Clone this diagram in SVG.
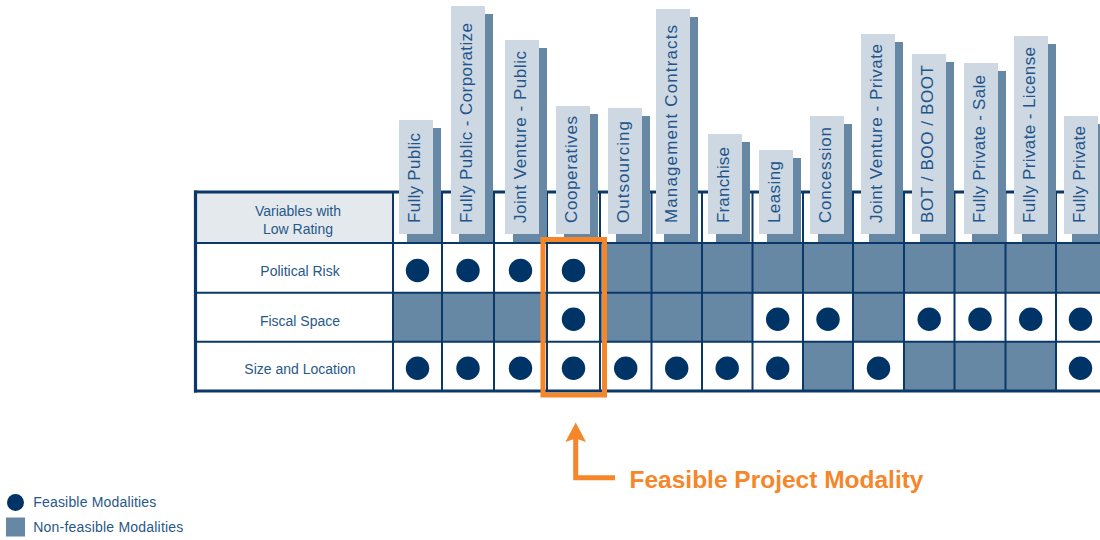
<svg xmlns="http://www.w3.org/2000/svg" width="1100" height="540" viewBox="0 0 1100 540">
<style>
.tab{fill:#cdd8e2}
.sh{fill:#6688a5}
.tt{font-family:"Liberation Sans",Arial,sans-serif;font-size:17px;fill:#22548a}
.lb{font-family:"Liberation Sans",Arial,sans-serif;font-size:14px;fill:#285888;text-anchor:middle}
.lg{font-family:"Liberation Sans",Arial,sans-serif;font-size:14px;fill:#285888}
.nf{fill:#6688a5}
.dot{fill:#003466}
.gl{stroke:#0a3868;stroke-width:2;fill:none}
.bd{stroke:#0a3868;stroke-width:3.2;fill:none}
.or{stroke:#f5862a;stroke-width:5;fill:none}
</style>
<rect width="1100" height="540" fill="#ffffff"/>
<!-- header cell -->
<g id="header-label">
<rect x="195" y="192" width="198" height="51" fill="#e4e9ee"/>
<text class="lb" x="298" y="216">Variables with</text>
<text class="lb" x="298" y="234">Low Rating</text>
</g>
<!-- header grid lines (under tabs) -->
<g id="header-grid">
<line class="bd" x1="194" y1="192" x2="1100" y2="192"/>
<path class="gl" d="M393 192V243M442 192V243M494 192V243M547 192V243M600 192V243M651.5 192V243M702 192V243M752.5 192V243M803 192V243M853 192V243M904 192V243M954.5 192V243M1005.5 192V243M1056 192V243"/>
</g>
<!-- tabs -->
<g id="tab-fully-public"><rect class="sh" x="407" y="128" width="34" height="115"/><rect class="tab" x="399" y="120" width="34" height="114"/><text class="tt" transform="translate(420,223) rotate(-90)" textLength="90" lengthAdjust="spacing">Fully Public</text></g>
<g id="tab-fully-public-corporatize"><rect class="sh" x="459" y="14" width="34" height="229"/><rect class="tab" x="451" y="6" width="34" height="228"/><text class="tt" transform="translate(472,223) rotate(-90)" textLength="200" lengthAdjust="spacing">Fully Public - Corporatize</text></g>
<g id="tab-jv-public"><rect class="sh" x="513" y="48" width="34" height="195"/><rect class="tab" x="505" y="40" width="34" height="194"/><text class="tt" transform="translate(526,223) rotate(-90)" textLength="172" lengthAdjust="spacing">Joint Venture - Public</text></g>
<g id="tab-cooperatives"><rect class="sh" x="564" y="114" width="34" height="129"/><rect class="tab" x="556" y="106" width="34" height="128"/><text class="tt" transform="translate(577,223) rotate(-90)" textLength="107" lengthAdjust="spacing">Cooperatives</text></g>
<g id="tab-outsourcing"><rect class="sh" x="616" y="116" width="34" height="127"/><rect class="tab" x="608" y="108" width="34" height="126"/><text class="tt" transform="translate(629,223) rotate(-90)" textLength="102" lengthAdjust="spacing">Outsourcing</text></g>
<g id="tab-management-contracts"><rect class="sh" x="664" y="17" width="34" height="226"/><rect class="tab" x="656" y="9" width="34" height="225"/><text class="tt" transform="translate(677,223) rotate(-90)" textLength="198" lengthAdjust="spacing">Management Contracts</text></g>
<g id="tab-franchise"><rect class="sh" x="716" y="142" width="34" height="101"/><rect class="tab" x="708" y="134" width="34" height="100"/><text class="tt" transform="translate(729,223) rotate(-90)" textLength="76" lengthAdjust="spacing">Franchise</text></g>
<g id="tab-leasing"><rect class="sh" x="767" y="158" width="34" height="85"/><rect class="tab" x="759" y="150" width="34" height="84"/><text class="tt" transform="translate(780,223) rotate(-90)" textLength="62" lengthAdjust="spacing">Leasing</text></g>
<g id="tab-concession"><rect class="sh" x="818" y="124" width="34" height="119"/><rect class="tab" x="810" y="116" width="34" height="118"/><text class="tt" transform="translate(831,223) rotate(-90)" textLength="96" lengthAdjust="spacing">Concession</text></g>
<g id="tab-jv-private"><rect class="sh" x="869" y="42" width="34" height="201"/><rect class="tab" x="861" y="34" width="34" height="200"/><text class="tt" transform="translate(882,223) rotate(-90)" textLength="179" lengthAdjust="spacing">Joint Venture - Private</text></g>
<g id="tab-bot"><rect class="sh" x="920" y="62" width="34" height="181"/><rect class="tab" x="912" y="54" width="34" height="180"/><text class="tt" transform="translate(933,223) rotate(-90)" textLength="158" lengthAdjust="spacing">BOT / BOO / BOOT</text></g>
<g id="tab-fully-private-sale"><rect class="sh" x="972" y="71" width="34" height="172"/><rect class="tab" x="964" y="63" width="34" height="171"/><text class="tt" transform="translate(985,223) rotate(-90)" textLength="148" lengthAdjust="spacing">Fully Private - Sale</text></g>
<g id="tab-fully-private-license"><rect class="sh" x="1022" y="44" width="34" height="199"/><rect class="tab" x="1014" y="36" width="34" height="198"/><text class="tt" transform="translate(1035,223) rotate(-90)" textLength="176" lengthAdjust="spacing">Fully Private - License</text></g>
<g id="tab-fully-private"><rect class="sh" x="1072" y="124" width="34" height="119"/><rect class="tab" x="1064" y="116" width="34" height="118"/><text class="tt" transform="translate(1085,223) rotate(-90)" textLength="97" lengthAdjust="spacing">Fully Private</text></g>
<!-- rows -->
<g id="row-political-risk">
<text class="lb" x="300" y="276">Political Risk</text>
<rect class="nf" x="600" y="243" width="507" height="49.7"/>
<circle class="dot" cx="417.5" cy="270.5" r="11.7"/>
<circle class="dot" cx="468" cy="270.5" r="11.7"/>
<circle class="dot" cx="520.5" cy="270.5" r="11.7"/>
<circle class="dot" cx="573.5" cy="270.5" r="11.7"/>
</g>
<g id="row-fiscal-space">
<text class="lb" x="300" y="325.7">Fiscal Space</text>
<rect class="nf" x="393" y="292.7" width="154" height="49"/>
<rect class="nf" x="600" y="292.7" width="152.5" height="49"/>
<rect class="nf" x="853" y="292.7" width="51" height="49"/>
<circle class="dot" cx="573.5" cy="319.3" r="11.7"/>
<circle class="dot" cx="777.7" cy="319.3" r="11.7"/>
<circle class="dot" cx="828" cy="319.3" r="11.7"/>
<circle class="dot" cx="929.2" cy="319.3" r="11.7"/>
<circle class="dot" cx="980" cy="319.3" r="11.7"/>
<circle class="dot" cx="1030.7" cy="319.3" r="11.7"/>
<circle class="dot" cx="1080.5" cy="319.3" r="11.7"/>
</g>
<g id="row-size-location">
<text class="lb" x="300" y="374">Size and Location</text>
<rect class="nf" x="803" y="341.7" width="50" height="49.3"/>
<rect class="nf" x="904" y="341.7" width="152" height="49.3"/>
<circle class="dot" cx="417.5" cy="368.3" r="11.7"/>
<circle class="dot" cx="468" cy="368.3" r="11.7"/>
<circle class="dot" cx="520.5" cy="368.3" r="11.7"/>
<circle class="dot" cx="573.5" cy="368.3" r="11.7"/>
<circle class="dot" cx="625.7" cy="368.3" r="11.7"/>
<circle class="dot" cx="676.7" cy="368.3" r="11.7"/>
<circle class="dot" cx="727.2" cy="368.3" r="11.7"/>
<circle class="dot" cx="777.7" cy="368.3" r="11.7"/>
<circle class="dot" cx="878.5" cy="368.3" r="11.7"/>
<circle class="dot" cx="1080.5" cy="368.3" r="11.7"/>
</g>
<!-- body grid -->
<g id="body-grid">
<path class="gl" d="M195 243H1100M195 292.7H1100M195 341.7H1100"/>
<path class="gl" d="M393 243V391M442 243V391M494 243V391M547 243V391M600 243V391M651.5 243V391M702 243V391M752.5 243V391M803 243V391M853 243V391M904 243V391M954.5 243V391M1005.5 243V391M1056 243V391"/>
<line class="bd" x1="195.5" y1="190.5" x2="195.5" y2="392.6"/>
<line class="bd" x1="194" y1="391" x2="1100" y2="391"/>
</g>
<!-- highlight -->
<g id="highlight-box">
<rect class="or" x="543" y="239.5" width="61.5" height="155.5"/>
</g>
<g id="connectors">
<path class="or" d="M575.7 438V477.7H615" stroke-linejoin="miter"/>
<polygon points="575.7,422.5 586,442 575.7,438.5 565.4,442" fill="#f5862a"/>
</g>
<g id="annotation">
<text x="629.5" y="488.3" font-family="'Liberation Sans',Arial,sans-serif" font-weight="bold" font-size="24" fill="#f5862a" textLength="294" lengthAdjust="spacingAndGlyphs">Feasible Project Modality</text>
</g>
<g id="legend">
<circle class="dot" cx="15.5" cy="502.5" r="8.5"/>
<text class="lg" x="33.3" y="507.3" textLength="123" lengthAdjust="spacing">Feasible Modalities</text>
<rect class="nf" x="6" y="517.5" width="19" height="19"/>
<text class="lg" x="33.3" y="531.7" textLength="150" lengthAdjust="spacing">Non-feasible Modalities</text>
</g>
</svg>
